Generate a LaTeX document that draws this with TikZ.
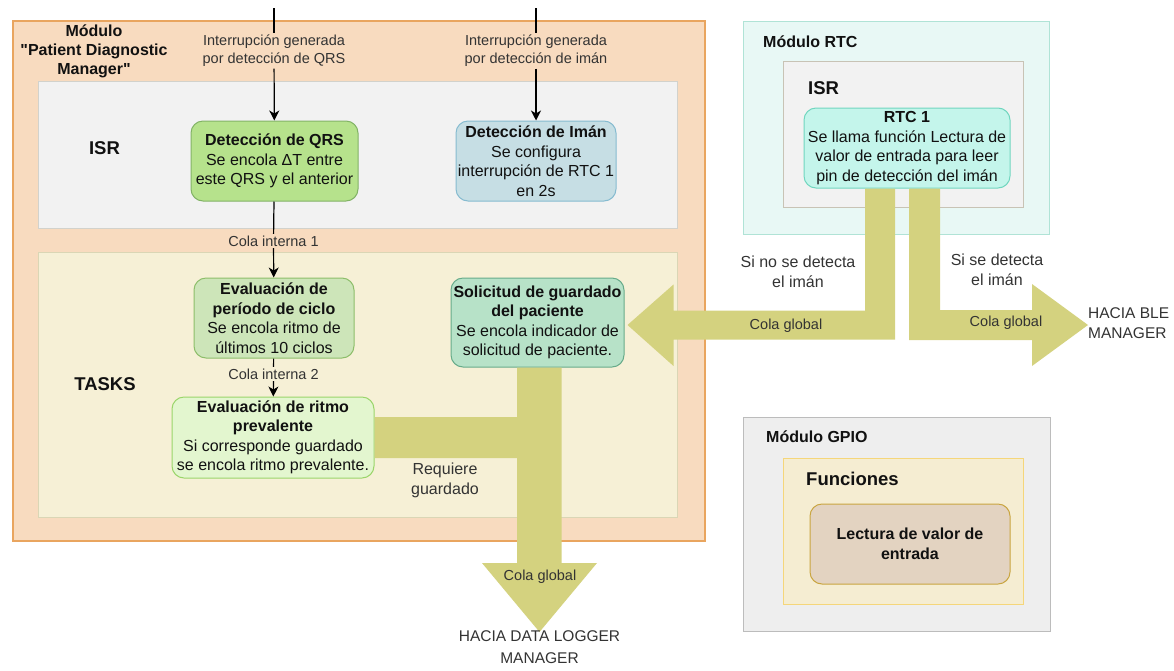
\documentclass[tikz,border=0pt]{standalone}
\usepackage{fontspec}
\setmainfont{Liberation Sans}[Ligatures=TeXOff]
\usetikzlibrary{calc,arrows.meta}

\definecolor{peachfill}{HTML}{F8DBBF}
\definecolor{peachline}{HTML}{E9A55F}
\definecolor{isrfill}{HTML}{F2F2F2}
\definecolor{isrline}{HTML}{D2D2CC}
\definecolor{taskfill}{HTML}{F6F0D6}
\definecolor{taskline}{HTML}{DAD6B5}
\definecolor{qrsfill}{HTML}{B6E28C}
\definecolor{qrsline}{HTML}{82B366}
\definecolor{imanfill}{HTML}{C6DEE4}
\definecolor{imanline}{HTML}{86BBD0}
\definecolor{perfill}{HTML}{CDE5B9}
\definecolor{perline}{HTML}{8DBE6A}
\definecolor{ritfill}{HTML}{E3F6CF}
\definecolor{ritline}{HTML}{9AD56A}
\definecolor{solfill}{HTML}{B7E2C8}
\definecolor{solline}{HTML}{67AB8A}
\definecolor{rtcmfill}{HTML}{E8F8F5}
\definecolor{rtcmline}{HTML}{B0E3D6}
\definecolor{rtcisrline}{HTML}{C8C3B5}
\definecolor{rtcfill}{HTML}{C4F5EB}
\definecolor{rtcline}{HTML}{70D6BF}
\definecolor{gpiofill}{HTML}{EEEEEE}
\definecolor{gpioline}{HTML}{BCBCBC}
\definecolor{funcfill}{HTML}{F5EDD2}
\definecolor{funcline}{HTML}{F5D67A}
\definecolor{lectfill}{HTML}{E3D3C1}
\definecolor{lectline}{HTML}{C9A540}
\definecolor{flexfill}{HTML}{D4D27F}
\definecolor{labelgray}{HTML}{333333}
\definecolor{textdark}{HTML}{111111}

\newcommand\fsz[2]{\fontsize{#1}{#2}\selectfont}

\begin{document}
\begin{tikzpicture}[x=1pt,y=-1pt,
  container/.style={rectangle, draw, line width=1pt, anchor=north west, inner sep=0pt},
  proc/.style={rectangle, rounded corners=12pt, draw, line width=1pt, align=center,
    inner sep=0pt, text=textdark, font={\fsz{16}{19.5}}},
  lbl/.style={align=center, inner sep=1.5pt, text=labelgray, font={\fsz{14.5}{18}}},
  biglbl/.style={align=center, inner sep=0pt, text=labelgray, font={\fsz{16}{20}}},
  boxtitle/.style={inner sep=0pt, text=textdark, font={\fsz{16}{19}\bfseries}},
  sectitle/.style={inner sep=0pt, text=textdark, font={\fsz{18.5}{22}\bfseries}},
  wire/.style={line width=1.2pt, draw=black},
  flow/.style={wire, -{Stealth[length=10pt,width=10pt,inset=3pt]}},
  flex/.style={fill=flexfill, draw=none}
]
\useasboundingbox (0,0) rectangle (1174,670);

% ---------- containers ----------
\node[container, fill=peachfill, draw=peachline, line width=1.6pt,
      minimum width=692pt, minimum height=520pt] (pdm) at (12,20) {};
\node[container, fill=isrfill, draw=isrline, minimum width=639pt, minimum height=147pt] (isrA) at (38,81) {};
\node[container, fill=taskfill, draw=taskline, minimum width=639pt, minimum height=265pt] (tasks) at (38,252) {};
\node[container, fill=rtcmfill, draw=rtcmline, minimum width=306pt, minimum height=213pt] (rtcm) at (743,21) {};
\node[container, fill=isrfill, draw=rtcisrline, minimum width=240pt, minimum height=146pt] (isrB) at (783,61) {};
\node[container, fill=gpiofill, draw=gpioline, minimum width=307pt, minimum height=214pt] (gpio) at (743,417) {};
\node[container, fill=funcfill, draw=funcline, minimum width=240pt, minimum height=146pt] (func) at (783,458) {};

% ---------- container titles ----------
\node[boxtitle, align=center] (tpdm) at (94,51) {Módulo\\"Patient Diagnostic\\Manager"};
\node[sectitle] (tisrA) at (104.5,148) {ISR};
\node[sectitle] (ttasks) at (105,384) {TASKS};
\node[boxtitle, anchor=west] (trtcm) at (763,42) {Módulo RTC};
\node[sectitle, anchor=west] (tisrB) at (808,88) {ISR};
\node[boxtitle, anchor=west] (tgpio) at (766,437) {Módulo GPIO};
\node[sectitle, anchor=west] (tfunc) at (806,479) {Funciones};

% ---------- process nodes ----------
\node[proc, fill=qrsfill, draw=qrsline, minimum width=167pt, minimum height=80pt] (qrs) at (274.5,161)
  {\textbf{Detección de QRS}\\Se encola ΔT entre\\este QRS y el anterior};
\node[proc, fill=imanfill, draw=imanline, minimum width=160pt, minimum height=80pt] (iman) at (536,161)
  {\textbf{Detección de Imán}\\Se configura\\interrupción de RTC 1\\en 2s};
\node[proc, fill=perfill, draw=perline, minimum width=160pt, minimum height=80pt] (per) at (274,318)
  {\textbf{Evaluación de}\\\textbf{período de ciclo}\\Se encola ritmo de\\últimos 10 ciclos};
\node[proc, fill=ritfill, draw=ritline, minimum width=202pt, minimum height=81pt] (rit) at (273,437.5)
  {\textbf{Evaluación de ritmo}\\\textbf{prevalente}\\Si corresponde guardado\\se encola ritmo prevalente.};
\node[proc, fill=solfill, draw=solline, minimum width=173pt, minimum height=89pt] (sol) at (537.5,322.5)
  {\textbf{Solicitud de guardado}\\\textbf{del paciente}\\Se encola indicador de\\solicitud de paciente.};
\node[proc, fill=rtcfill, draw=rtcline, minimum width=206pt, minimum height=80pt] (rtc) at (907,148)
  {\textbf{RTC 1}\\Se llama función Lectura de\\valor de entrada para leer\\pin de detección del imán};
\node[proc, fill=lectfill, draw=lectline, minimum width=200pt, minimum height=80pt] (lect) at (910,544)
  {\textbf{Lectura de valor de}\\\textbf{entrada}};

% ---------- wide queue arrows ----------
\coordinate (dlTip) at (539.5,632);
\coordinate (lTip) at ($(sol.east)+(3,2.5)$);
\coordinate (bleTip) at (1088,325);

% patient-diagnostic -> data logger (with branch from rit)
\fill[flex] ($(sol.south)+(-20.5,0)$) |- ($(rit.east)+(0,-20.5)$) -- ($(rit.east)+(0,20.5)$)
  -| ($(dlTip)+(-22.5,-69)$) -- ++(-35,0) -- (dlTip) -- ++(57.5,-69) -- ++(-35.5,0)
  |- ($(sol.south)+(23.5,0)$) -- cycle;
% RTC -> solicitud (magnet not detected)
\fill[flex] ($(rtc.south)+(-42,0)$) |- ($(lTip)+(46,-14.5)$) -- ++(0,-26) -- (lTip)
  -- ++(46,41) -- ++(0,-26.5) -| ($(rtc.south)+(-12,0)$) -- cycle;
% RTC -> BLE manager (magnet detected)
\fill[flex] ($(rtc.south)+(2,0)$) |- ($(bleTip)+(-56,15)$) -- ++(0,26) -- (bleTip)
  -- ++(-56,-41) -- ++(0,26) -| ($(rtc.south)+(33,0)$) -- cycle;

% ---------- wide arrow labels ----------
\node[lbl] (cgD) at (540,577) {Cola global};
\node[lbl] (cgL) at (786,326) {Cola global};
\node[lbl] (cgR) at (1006,323) {Cola global};
\node[biglbl] (req) at (445,480) {Requiere\\guardado};
\node[biglbl] (sino) at (798,272) {Si no se detecta\\el imán};
\node[biglbl] (sisi) at (997,270) {Si se detecta\\el imán};
\node[biglbl, anchor=north, font={\fsz{15.5}{22}}] (dlm) at ($(dlTip)+(0,-2)$) {HACIA DATA LOGGER\\MANAGER};
\node[biglbl, anchor=west, align=left, font={\fsz{15.5}{20}}] (blem) at ($(bleTip)+(0,-2)$) {HACIA BLE\\MANAGER};

% ---------- interrupt and internal queue connectors ----------
\coordinate (qIn) at (274,8);
\coordinate (mIn) at (536,8);
\node[lbl] (lq) at (274,51) {Interrupción generada\\por detección de QRS};
\node[lbl] (lm) at (536,51) {Interrupción generada\\por detección de imán};
\draw[wire] (qIn) -- (lq);
\draw[flow] (lq) -- (qrs);
\draw[wire] (mIn) -- (lm);
\draw[flow] (lm) -- (iman);

\node[lbl] (c1) at (273.5,241) {Cola interna 1};
\node[lbl] (c2) at (273.5,374) {Cola interna 2};
\draw[wire] (qrs) -- (c1);
\draw[flow] (c1) -- (per);
\draw[wire] (per) -- (c2);
\draw[flow] (c2) -- (rit);
\end{tikzpicture}
\end{document}
